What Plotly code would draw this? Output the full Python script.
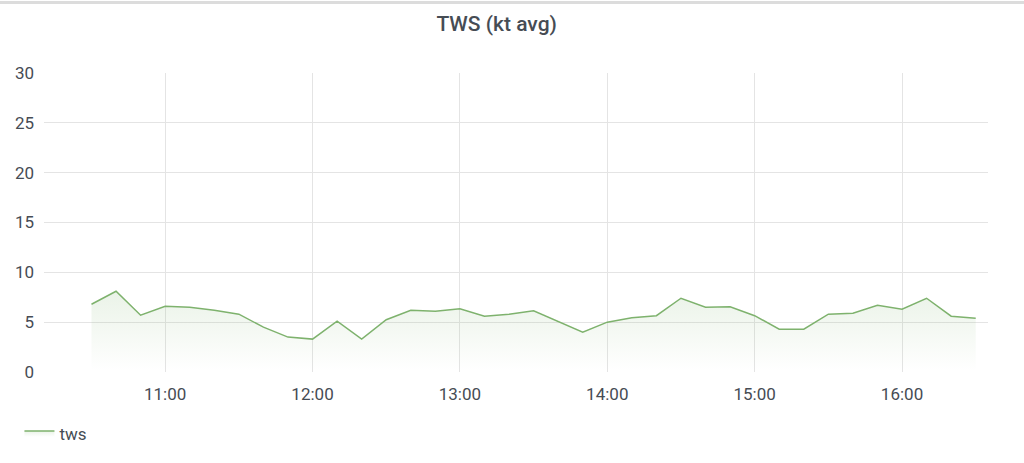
import plotly.graph_objects as go
import pandas as pd

# Data (10-minute samples)
times = pd.date_range("2023-01-01 10:30", "2023-01-01 16:30", freq="10min")
tws = [6.8, 8.1, 5.7, 6.6, 6.5, 6.2, 5.8, 4.5, 3.5, 3.3, 5.1, 3.3,
       5.25, 6.2, 6.1, 6.35, 5.6, 5.8, 6.15, 5.1, 4.0, 5.0, 5.45, 5.65,
       7.4, 6.5, 6.55, 5.65, 4.3, 4.3, 5.8, 5.9, 6.7, 6.3, 7.4, 5.6, 5.4]
series_name = "tws"
title_text = "TWS (kt avg)"
y_ticks = [0, 5, 10, 15, 20, 25, 30]

LINE = "#7EB26D"
TXT = "#464c54"
GRID = "#e4e4e4"
FONT = "Roboto"

fig = go.Figure()
fig.add_trace(go.Scatter(
    x=times, y=tws, name=series_name, mode="lines",
    line=dict(color=LINE, width=1.5),
    fill="tozeroy",
    fillgradient=dict(type="vertical", start=0, stop=8,
                      colorscale=[[0, "rgba(126,178,109,0.0)"],
                                  [1, "rgba(126,178,109,0.16)"]]),
))

fig.update_layout(
    width=1024, height=463,
    margin=dict(l=44, r=36, t=73, b=89),
    paper_bgcolor="white", plot_bgcolor="white",
    font=dict(family=FONT, size=17, color=TXT),
    title=dict(text=title_text, x=0.485, xanchor="center", y=0.948, yanchor="middle",
               font=dict(family=FONT, size=21, color=TXT, weight=500)),
    showlegend=True,
    legend=dict(orientation="h", x=-0.026, xanchor="left", y=-0.145, yanchor="top",
                font=dict(family=FONT, size=17, color=TXT), itemwidth=30,
                bgcolor="rgba(0,0,0,0)"),
    xaxis=dict(
        range=["2023-01-01 10:10:40", "2023-01-01 16:35:00"],
        tickformat="%H:%M", dtick=3600000, tick0="2023-01-01 11:00",
        showgrid=True, gridcolor=GRID, gridwidth=1,
        zeroline=False, showline=False, ticks="", ticklabelstandoff=10,
        tickfont=dict(family=FONT, size=17, color=TXT),
    ),
    yaxis=dict(
        range=[0, 30], tickvals=y_ticks,
        showgrid=True, gridcolor=GRID, gridwidth=1,
        zeroline=False, showline=False, ticks="", ticklabelstandoff=9,
        tickfont=dict(family=FONT, size=17, color=TXT),
    ),
    shapes=[dict(type="line", xref="paper", yref="paper",
                 x0=-0.05, x1=1.05, y0=1.236, y1=1.236,
                 line=dict(color="#dcdcdc", width=3))],
)

fig.write_html("out.html",
               config={"displayModeBar": False},
               post_script="document.body.style.margin='0';document.body.style.overflow='hidden';")
